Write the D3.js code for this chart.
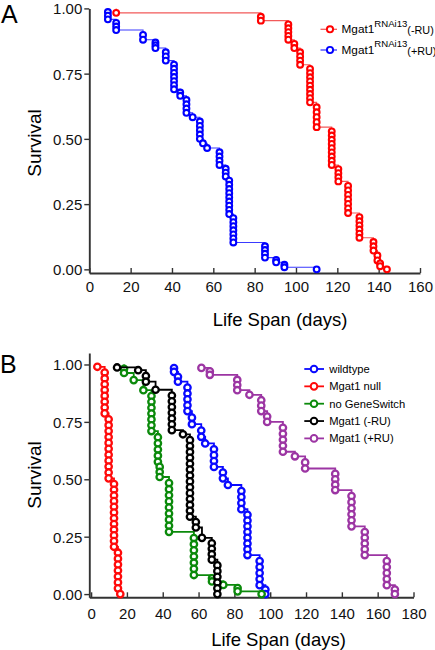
<!DOCTYPE html>
<html><head><meta charset="utf-8">
<script src="https://cdn.jsdelivr.net/npm/d3@7"></script>
<style>
body{margin:0;background:#fff}
svg{display:block}
text{font-family:"Liberation Sans",Arial,Helvetica,sans-serif}
</style>
</head><body>
<svg id="chart" width="435" height="650"></svg>
<script>
// ---------------- Panel A data ----------------
const aXTicks = [0,20,40,60,80,100,120,140,160];
const aYTicks = [0,0.25,0.5,0.75,1];
// Mgat1 RNAi13 (-RU)
const aMinusDays   = [13,83,96.3,99.2,102,106.8,110,117.3,120.5,125.2,130.7,137.5,139.4,140.7,144];
const aMinusSurv   = [0.983,0.953,0.88,0.848,0.784,0.64,0.545,0.40,0.337,0.216,0.121,0.072,0.034,0.012,0];
const aMinusEvents = [1,2,5,2,4,9,5,9,4,7,6,3,2,2,1];
// Mgat1 RNAi13 (+RU)
const aPlusDays   = [9,13,26,32,37,41,44,47,50,53.5,55,57,63,66,67.7,69.7,85,90.4,94.4,110];
const aPlusSurv   = [0.958,0.917,0.88,0.848,0.80,0.69,0.665,0.60,0.583,0.50,0.483,0.465,0.40,0.356,0.212,0.103,0.045,0.027,0.008,0];
const aPlusEvents = [3,3,2,3,3,7,2,4,1,5,1,1,4,3,9,7,4,2,2,1];

// ---------------- Panel B data ----------------
const bXTicks = [0,20,40,60,80,100,120,140,160,180];
const bYTicks = [0,0.25,0.5,0.75,1];
const wtDays   = [46.3,48.5,53.8,56.3,61.5,63.7,68.6,73.6,76.4,83.9,87.3,94.1,97.3];
const wtSurv   = [0.968,0.925,0.797,0.74,0.685,0.656,0.554,0.504,0.475,0.37,0.17,0.039,0];
const wtEvents = [2,2,5,2,2,1,4,2,1,4,8,5,2];
const nullDays   = [3.5,7.6,9.8,12.8,15,16.3];
const nullSurv   = [0.99,0.787,0.504,0.206,0.025,0];
const nullEvents = [1,8,11,12,7,1];
const ngsDays   = [18.4,23.8,29.2,33.7,37.3,38.3,43.5,57.4,67.5,73.8,81.8,95.2];
const ngsSurv   = [0.963,0.932,0.888,0.71,0.576,0.51,0.271,0.083,0.055,0.04,0.012,0];
const ngsEvents = [2,1,1,7,5,3,9,7,2,1,2,1];
const minusDays   = [14.5,26.3,30.6,36,45.1,51.3,55.2,58.5,61.9,67.4,70.5];
const minusSurv   = [0.987,0.975,0.925,0.89,0.714,0.696,0.337,0.29,0.245,0.15,0];
const minusEvents = [1,1,2,1,7,1,14,2,1,4,6];
const plusDays   = [61.6,66.3,81.6,88.4,95,98.3,107.1,113.8,119.5,136.3,145.4,152.8,165.1,169.6];
const plusSurv   = [0.985,0.955,0.888,0.868,0.797,0.75,0.62,0.60,0.547,0.453,0.295,0.17,0.039,0];
const plusEvents = [1,2,3,1,3,2,5,1,2,4,6,5,5,2];

const aSeries = [
  {name:"(-RU)", color:"#ff0000", line:"#f25a5a", days:aMinusDays, surv:aMinusSurv, events:aMinusEvents},
  {name:"(+RU)", color:"#0000ff", line:"#3a3aff", days:aPlusDays, surv:aPlusSurv, events:aPlusEvents}
];
const bSeries = [
  {name:"wildtype", color:"#0a0aff", days:wtDays, surv:wtSurv, events:wtEvents},
  {name:"Mgat1 null", color:"#ff0a0a", days:nullDays, surv:nullSurv, events:nullEvents},
  {name:"no GeneSwitch", color:"#0b8a0b", days:ngsDays, surv:ngsSurv, events:ngsEvents},
  {name:"Mgat1 (-RU)", color:"#000000", days:minusDays, surv:minusSurv, events:minusEvents},
  {name:"Mgat1 (+RU)", color:"#9c35a3", days:plusDays, surv:plusSurv, events:plusEvents}
];

const svg = d3.select("#chart");
const axisColor = "#333";

function kmPoints(s){
  const pts = [[s.days[0],1]];
  s.days.forEach((d,i)=>pts.push([d,s.surv[i]]));
  return pts;
}
function circlePoints(s){
  const out = [];
  let prev = 1;
  s.days.forEach((d,i)=>{
    const k = s.events[i];
    const step = (prev - s.surv[i]) / k;
    for(let j=1;j<=k;j++) out.push([d, prev - j*step]);
    prev = s.surv[i];
  });
  return out;
}

function drawPanel(cfg){
  const g = svg.append("g");
  const x = d3.scaleLinear().domain(cfg.xDomain).range(cfg.xRange);
  const y = d3.scaleLinear().domain(cfg.yDomain).range(cfg.yRange);
  const baseY = y(cfg.yDomain[0]);

  const xa = d3.axisBottom(x).tickValues(cfg.xTicks).tickSizeInner(-5).tickSizeOuter(0).tickPadding(cfg.xPad).tickFormat(d3.format("d"));
  const gx = g.append("g").attr("transform",`translate(0,${baseY})`).call(xa);
  const ya = d3.axisLeft(y).tickValues(cfg.yTicks).tickSizeInner(5).tickSizeOuter(0).tickPadding(2).tickFormat(d3.format(".2f"));
  const gy = g.append("g").attr("transform",`translate(${x(cfg.xDomain[0])},0)`).call(ya);
  [gx,gy].forEach(a=>{
    a.select(".domain").attr("stroke",axisColor).attr("stroke-width",1.9);
    a.selectAll(".tick line").attr("stroke",axisColor).attr("stroke-width",1.4);
    a.selectAll(".tick text").attr("fill","#111").style("font-size","15px").style("font-family",'"Liberation Sans",Arial,sans-serif');
  });
  gy.selectAll(".tick text").attr("dy","0.36em");

  const line = d3.line().x(d=>x(d[0])).y(d=>y(d[1])).curve(d3.curveStepAfter);
  cfg.series.forEach(s=>{
    g.append("path").attr("d",line(kmPoints(s))).attr("fill","none")
      .attr("stroke",s.line||s.color).attr("stroke-width",cfg.lineW);
    g.append("g").selectAll("circle").data(circlePoints(s)).join("circle")
      .attr("cx",d=>x(d[0])).attr("cy",d=>y(d[1])).attr("r",cfg.r)
      .attr("fill","#fff").attr("stroke",s.color).attr("stroke-width",cfg.circW);
  });

  g.append("text").attr("x",cfg.xLabelX).attr("y",cfg.xLabelY).attr("text-anchor","middle")
    .style("font-size","18.5px").text("Life Span (days)");
  g.append("text").attr("transform",`translate(41,${cfg.yLabelY}) rotate(-90)`).attr("text-anchor","middle")
    .style("font-size","19px").text("Survival");
  g.append("text").attr("x",cfg.letterX).attr("y",cfg.letterY).style("font-size","25px").text(cfg.letter);
  return g;
}

drawPanel({
  xDomain:[0,160], xRange:[89.3,420], yDomain:[-0.014,1], yRange:[273,8.4],
  xTicks:aXTicks, yTicks:aYTicks, xPad:8, series:aSeries, lineW:1.1, r:2.9, circW:2.1,
  xLabelX:280, xLabelY:326, yLabelY:143, letter:"A", letterX:1, letterY:23
});
drawPanel({
  xDomain:[-1,180], xRange:[89.3,413.5], yDomain:[-0.014,1.05], yRange:[597.3,353],
  xTicks:bXTicks, yTicks:bYTicks, xPad:11, series:bSeries, lineW:1.8, r:3.2, circW:2.3,
  xLabelX:278.5, xLabelY:645.5, yLabelY:475, letter:"B", letterX:0, letterY:373
});

// Legend A
const legA = svg.append("g");
aSeries.forEach((s,i)=>{
  const cy = 29.3 + i*20.7;
  legA.append("line").attr("x1",320.5).attr("x2",337).attr("y1",cy).attr("y2",cy).attr("stroke",s.line).attr("stroke-width",1.3);
  legA.append("circle").attr("cx",330).attr("cy",cy).attr("r",3.1).attr("fill","#fff").attr("stroke",s.color).attr("stroke-width",1.9);
  const t = legA.append("text").attr("x",341.5).attr("y",cy+4).style("font-size","11.8px");
  t.append("tspan").text("Mgat1");
  t.append("tspan").attr("dy",-6.6).style("font-size","9.6px").text("RNAi13");
  t.append("tspan").attr("dy",7.2).style("font-size","10.8px").text(s.name);
});

// Legend B
const legB = svg.append("g");
bSeries.forEach((s,i)=>{
  const cy = 369 + i*17.35;
  legB.append("line").attr("x1",304.3).attr("x2",324).attr("y1",cy).attr("y2",cy).attr("stroke",s.color).attr("stroke-width",1.8);
  legB.append("circle").attr("cx",314).attr("cy",cy).attr("r",3.3).attr("fill","#fff").attr("stroke",s.color).attr("stroke-width",2);
  legB.append("text").attr("x",329.3).attr("y",cy+4).style("font-size","11.2px").text(s.name);
});
</script>
</body></html>
